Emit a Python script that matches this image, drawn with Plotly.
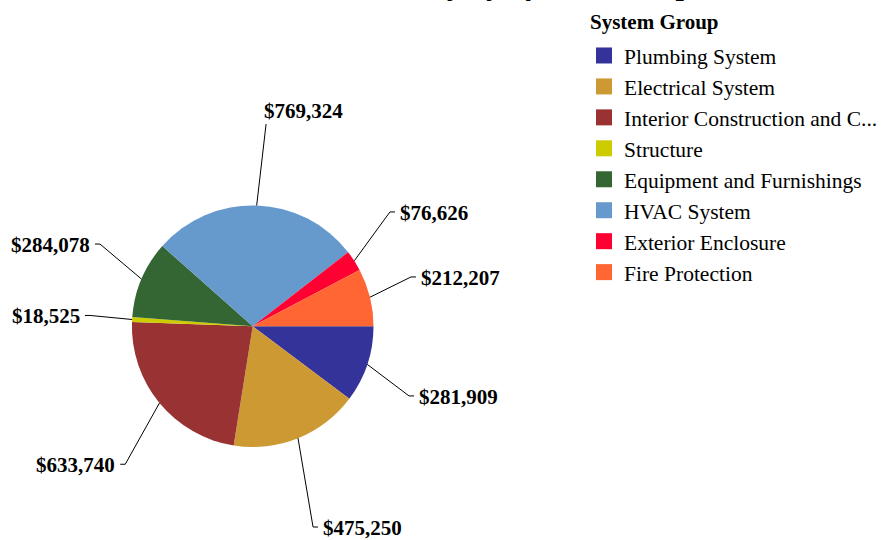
import math
import plotly.graph_objects as go

# ---- data ----
categories = ["Plumbing System", "Electrical System", "Interior Construction and C...",
              "Structure", "Equipment and Furnishings", "HVAC System",
              "Exterior Enclosure", "Fire Protection"]
values = [281909, 475250, 633740, 18525, 284078, 769324, 76626, 212207]
colors = ["#333399", "#CC9933", "#993333", "#CCCC00", "#336633", "#6699CC", "#FF0033", "#FF6633"]
title_text = "Total Cost for Facility by System Group"
legend_title = "System Group"

# ---- layout geometry (pixels) ----
W, H = 890, 540
CX, CY, R = 252.7, 326.2, 120.8
leader_r = [171.2, 209.7, 187.9, 163.1, 173.4, 202.6, 178.6, 165.8]
leader_dang = [5.6, 5.3, -7.8, 0.6, 5.3, 1.9, -7.0, -3.4]
FONT = "Liberation Serif"


def px(x):
    return x / W


def py(y):
    return 1 - y / H


fig = go.Figure()
fig.add_trace(go.Pie(
    labels=categories, values=values, sort=False, direction="clockwise", rotation=90,
    marker=dict(colors=colors, line=dict(width=0)), textinfo="none", showlegend=False,
    domain=dict(x=[px(CX - R), px(CX + R)], y=[py(CY + R), py(CY - R)]),
    hoverinfo="label+value",
))

# legend entries with larger square swatches
for c, col in zip(categories, colors):
    fig.add_trace(go.Scatter(x=[None], y=[None], mode="markers", name=c,
                             marker=dict(symbol="square", size=16, color=col)))

total = sum(values)
shapes, annotations = [], []
cum = 0.0
for v, lr, da in zip(values, leader_r, leader_dang):
    mid = (cum + v / 2) / total * 360.0
    cum += v
    a = math.radians(mid)
    x0, y0 = CX + R * math.cos(a), CY + R * math.sin(a)
    b = math.radians(mid + da)
    x1, y1 = CX + lr * math.cos(b), CY + lr * math.sin(b)
    label = f"${v:,}"
    if math.sin(b) < -0.95:
        shapes.append(dict(type="path", xref="paper", yref="paper",
                           path=f"M{px(x0)},{py(y0)} L{px(x1)},{py(y1)}",
                           line=dict(color="black", width=1)))
        annotations.append(dict(x=px(x1 - 4), y=py(y1 + 1), xref="paper", yref="paper",
                                text=label, showarrow=False, xanchor="left", yanchor="bottom",
                                font=dict(family=FONT, size=21, color="black", weight="bold")))
    else:
        s = 1 if math.cos(b) > 0 else -1
        x2 = x1 + 5 * s
        shapes.append(dict(type="path", xref="paper", yref="paper",
                           path=f"M{px(x0)},{py(y0)} L{px(x1)},{py(y1)} L{px(x2)},{py(y1)}",
                           line=dict(color="black", width=1)))
        annotations.append(dict(x=px(x2 + 3 * s), y=py(y1 + 1), xref="paper", yref="paper",
                                text=label, showarrow=False,
                                xanchor="left" if s > 0 else "right", yanchor="middle",
                                font=dict(family=FONT, size=21, color="black", weight="bold")))

# chart title (mostly above the visible page, as in the reference)
annotations.append(dict(x=px(694), y=py(2.5), xref="paper", yref="paper", text=title_text,
                        showarrow=False, xanchor="right", yanchor="bottom",
                        font=dict(family=FONT, size=30, color="black", weight="bold")))
# legend title
annotations.append(dict(x=px(588), y=py(22), xref="paper", yref="paper", text=legend_title,
                        showarrow=False, xanchor="left", yanchor="middle",
                        font=dict(family=FONT, size=21, color="black", weight="bold")))

fig.update_layout(
    width=W, height=H, margin=dict(l=0, r=0, t=0, b=0),
    paper_bgcolor="white", plot_bgcolor="white",
    xaxis=dict(visible=False), yaxis=dict(visible=False),
    shapes=shapes, annotations=annotations,
    legend=dict(x=px(584), y=py(35), xanchor="left", yanchor="top",
                font=dict(family=FONT, size=21.5, color="black")),
)
fig.write_html("out.html")
